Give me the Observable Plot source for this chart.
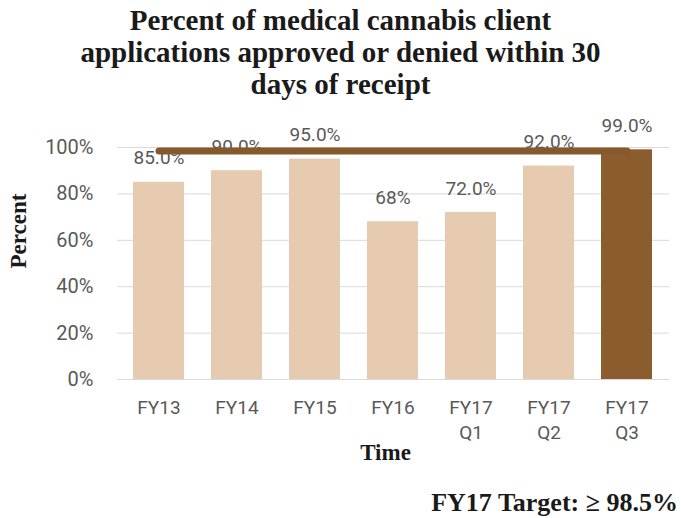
<!DOCTYPE html>
<html><head><meta charset="utf-8">
<script src="https://cdn.jsdelivr.net/npm/d3@7"></script>
<script src="https://cdn.jsdelivr.net/npm/@observablehq/plot@0.6"></script>
<style>
body{margin:0;background:#fff;width:681px;height:518px;overflow:hidden;}
#title{font-family:"Liberation Serif","DejaVu Serif",serif;font-weight:bold;font-size:29px;line-height:32px;text-align:center;color:#1a1a1a;height:105px;padding-top:4px;box-sizing:border-box;}
#foot{font-family:"Liberation Serif","DejaVu Serif",serif;font-weight:bold;font-size:26px;text-align:right;padding-right:3px;color:#1a1a1a;margin-top:13px;}
</style></head><body>
<div id="title">Percent of medical cannabis client<br>applications approved or denied within 30<br>days of receipt</div>
<div id="chart"></div>
<div id="foot">FY17 Target: ≥ 98.5%</div>
<script>
const categories = ["FY13","FY14","FY15","FY16","FY17 Q1","FY17 Q2","FY17 Q3"];
const values = [85.0, 90.0, 95.0, 68.0, 72.0, 92.0, 99.0];
const valueLabels = ["85.0%","90.0%","95.0%","68%","72.0%","92.0%","99.0%"];
const target = 98.5;
const yTicks = [0,20,40,60,80,100];

const data = categories.map((c,i)=>({cat:c, v:values[i], lab:valueLabels[i], cur: i===categories.length-1}));
const targetLine = [{cat:categories[0], v:target},{cat:categories[categories.length-1], v:target}];
const sans = "Roboto, 'Liberation Sans', sans-serif";
const serif = "'Liberation Serif', 'DejaVu Serif', serif";

const chart = Plot.plot({
  width:681, height:370,
  marginLeft:117, marginRight:12, marginTop:42, marginBottom:96,
  x:{domain:categories, paddingInner:0.34, paddingOuter:0.17},
  y:{domain:[0,100]},
  marks:[
    Plot.gridY(yTicks,{stroke:"#d9d9d9", strokeOpacity:1}),
    Plot.axisY({ticks:yTicks, tickSize:0, tickPadding:24, tickFormat:d=>d+"%", fontSize:20, fontFamily:sans, fill:"#595959", label:null}),
    Plot.axisX({tickSize:0, tickPadding:17, tickFormat:d=>d.replace(" ","\n"), fontSize:19, fontFamily:sans, fill:"#595959", lineHeight:1.32, label:null}),
    Plot.barY(data,{x:"cat", y:"v", fill:d=>d.cur?"#8a5c2e":"#e6cbb0"}),
    Plot.text(data,{x:"cat", y:"v", text:"lab", dy:-24, fontSize:19, fontFamily:sans, fill:"#595959"}),
    Plot.line(targetLine,{x:"cat", y:"v", stroke:"#86592d", strokeWidth:7, strokeLinecap:"round"}),
    Plot.text(["Percent"],{frameAnchor:"left", rotate:-90, dx:-99, dy:5, text:d=>d, fontSize:23, fontWeight:"bold", fill:"#1a1a1a", fontFamily:serif}),
    Plot.text(["Time"],{frameAnchor:"bottom", dy:80, dx:-8, text:d=>d, fontSize:23, fontWeight:"bold", fill:"#1a1a1a", fontFamily:serif})
  ]
});
document.getElementById("chart").appendChild(chart);
</script>
</body></html>
